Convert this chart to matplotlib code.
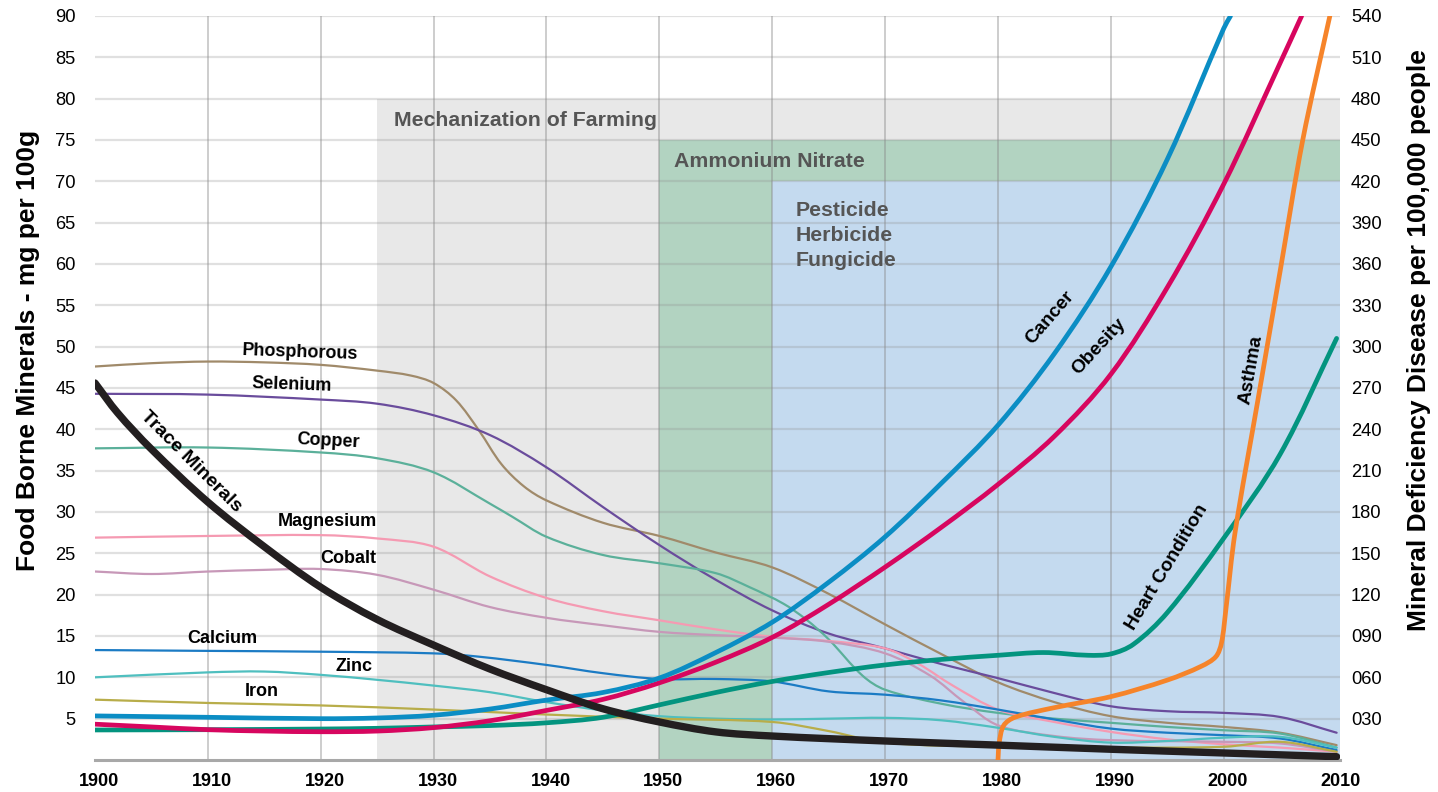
import numpy as np
import matplotlib
matplotlib.use("Agg")
import matplotlib.pyplot as plt
from matplotlib.path import Path
from matplotlib.patches import PathPatch, Rectangle
from matplotlib.transforms import ScaledTranslation

plt.rcParams['font.family'] = ['Liberation Sans', 'DejaVu Sans']

# ---------------- data (left axis: mg per 100g) ----------------
phos_years = [1900, 1905, 1910, 1915, 1920, 1925, 1928, 1930, 1932, 1934, 1936, 1938, 1940, 1945, 1950, 1955, 1960, 1965, 1970, 1975, 1980, 1985, 1990, 1995, 2000, 2005, 2010]
phos_vals  = [47.6, 48.0, 48.2, 48.1, 47.8, 47.1, 46.5, 45.6, 43.5, 39.9, 35.8, 33.1, 31.4, 28.7, 27.1, 25.1, 23.3, 20.1, 16.4, 12.8, 9.4, 7.0, 5.3, 4.5, 4.0, 3.3, 1.8]

sel_years = [1900, 1910, 1920, 1925, 1930, 1935, 1940, 1945, 1950, 1955, 1960, 1965, 1970, 1975, 1980, 1985, 1990, 1995, 2000, 2005, 2010]
sel_vals  = [44.3, 44.2, 43.6, 43.1, 41.7, 39.3, 35.4, 30.6, 26.0, 21.8, 18.1, 15.3, 13.5, 11.6, 9.9, 8.1, 6.5, 5.9, 5.7, 5.2, 3.3]

cop_years = [1900, 1910, 1920, 1925, 1930, 1935, 1937, 1940, 1945, 1950, 1955, 1958, 1961, 1963, 1965, 1968, 1970, 1975, 1980, 1985, 1990, 1995, 2000, 2005, 2010]
cop_vals  = [37.7, 37.8, 37.2, 36.5, 34.8, 31.0, 29.4, 27.0, 24.8, 23.8, 22.6, 20.9, 18.9, 17.0, 14.6, 10.2, 8.5, 6.8, 5.7, 5.0, 4.5, 4.0, 3.6, 3.2, 1.5]

mag_years = [1900, 1910, 1920, 1925, 1930, 1935, 1940, 1945, 1950, 1955, 1960, 1965, 1970, 1973, 1976, 1980, 1985, 1990, 1995, 2000, 2005, 2010]
mag_vals  = [26.9, 27.1, 27.2, 26.8, 25.8, 22.2, 19.6, 18.0, 16.9, 15.8, 14.9, 14.4, 13.5, 11.6, 9.0, 6.1, 4.6, 3.4, 2.5, 1.9, 1.5, 1.0]

cob_years = [1900, 1905, 1910, 1915, 1920, 1925, 1930, 1935, 1940, 1945, 1950, 1955, 1960, 1965, 1970, 1974, 1977, 1980, 1985, 1990, 2000, 2005, 2010]
cob_vals  = [22.8, 22.5, 22.8, 23.0, 23.1, 22.4, 20.6, 18.5, 17.2, 16.3, 15.5, 15.1, 14.8, 14.3, 12.9, 10.2, 7.0, 4.2, 2.9, 2.4, 2.2, 2.0, 1.0]

cal_years = [1900, 1910, 1920, 1930, 1934, 1940, 1945, 1950, 1955, 1960, 1965, 1970, 1975, 1980, 1985, 1990, 1995, 2000, 2005, 2010]
cal_vals  = [13.3, 13.2, 13.1, 12.9, 12.5, 11.5, 10.5, 9.8, 9.8, 9.5, 8.3, 7.9, 7.2, 6.1, 4.9, 3.8, 3.3, 3.0, 2.6, 1.2]

zinc_years = [1900, 1910, 1915, 1920, 1925, 1930, 1935, 1940, 1945, 1950, 1955, 1960, 1965, 1970, 1975, 1980, 1985, 1990, 1995, 2000, 2005, 2010]
zinc_vals  = [10.0, 10.6, 10.7, 10.3, 9.7, 9.0, 8.2, 7.0, 6.0, 5.3, 5.0, 4.9, 5.0, 5.1, 4.8, 3.9, 2.8, 2.1, 2.3, 2.7, 2.8, 1.5]

iron_years = [1900, 1910, 1920, 1930, 1940, 1950, 1960, 1965, 1970, 1980, 1990, 2000, 2005, 2010]
iron_vals  = [7.3, 6.9, 6.6, 6.1, 5.5, 5.0, 4.6, 3.5, 2.1, 1.6, 1.5, 1.6, 2.2, 1.0]

trace_years = [1900, 1902, 1905, 1910, 1915, 1920, 1925, 1930, 1935, 1940, 1945, 1950, 1955, 1960, 1970, 1980, 1990, 2000, 2010]
trace_vals  = [45.6, 42.0, 37.6, 31.2, 25.8, 20.9, 17.0, 13.9, 11.0, 8.5, 6.2, 4.6, 3.4, 2.9, 2.3, 1.8, 1.3, 0.85, 0.4]

# ---------------- data (right axis: disease per 100,000) ----------------
cancer_years = [1900, 1910, 1920, 1925, 1930, 1935, 1940, 1945, 1950, 1955, 1960, 1965, 1970, 1975, 1980, 1985, 1990, 1995, 2000, 2000.6]
cancer_vals  = [32, 31, 30, 30.5, 32.5, 37, 43.5, 49, 59.5, 78, 100, 129, 162, 201, 243, 295, 358, 436, 531, 540]

obesity_years = [1900, 1905, 1910, 1915, 1920, 1925, 1930, 1935, 1940, 1945, 1950, 1955, 1960, 1965, 1970, 1975, 1980, 1985, 1990, 1995, 2000, 2005, 2006.9]
obesity_vals  = [26, 24, 22, 21, 20.5, 21, 23.5, 28.5, 36, 44, 56, 71, 89, 113, 140, 169, 200, 235, 280, 343, 418, 506, 540]

heart_years = [1900, 1910, 1920, 1925, 1930, 1935, 1940, 1945, 1950, 1955, 1960, 1965, 1970, 1975, 1980, 1984, 1988, 1990, 1992, 1995, 2000, 2005, 2010]
heart_vals  = [21.8, 22, 22.5, 23, 24, 25, 27, 31, 40, 49, 57, 63.5, 69, 73, 76, 78, 76, 77, 84, 107, 161, 222, 306]

asthma_years = [1980, 1980.1, 1980.5, 1981.5, 1985, 1990, 1995, 1998, 1999.3, 1999.8, 2000.2, 2001, 2003, 2005, 2007, 2009.4]
asthma_vals  = [0, 12, 25, 31, 38, 46, 58, 68, 75, 85, 110, 165, 260, 355, 450, 540]

left_ticks = list(range(5, 95, 5))
right_ticks = list(range(30, 570, 30))
x_ticks = list(range(1900, 2020, 10))

# ---------------- figure ----------------
W, H = 1438, 792
fig = plt.figure(figsize=(W / 100, H / 100), dpi=100)
ax_l, ax_r, ax_b, ax_t = 95, 1340, 760, 16
ax = fig.add_axes([ax_l / W, 1 - ax_b / H, (ax_r - ax_l) / W, (ax_b - ax_t) / H])
XMIN, XMAX = 1900.35, 2010.3
ax.set_xlim(XMIN, XMAX)
ax.set_ylim(0, 90)
ax2 = ax.twinx()
ax2.set_ylim(0, 540)

for a in (ax, ax2):
    for s in a.spines.values():
        s.set_visible(False)
ax.set_zorder(2)
ax2.set_zorder(3)
ax.patch.set_visible(True)
ax2.patch.set_visible(False)

# shaded eras
ax.add_patch(Rectangle((1925, 0), XMAX - 1925, 80, facecolor='#e8e8e8', edgecolor='none', zorder=0.2))
ax.add_patch(Rectangle((1950, 0), XMAX - 1950, 75, facecolor='#b2d3c1', edgecolor='none', zorder=0.3))
ax.add_patch(Rectangle((1960, 0), XMAX - 1960, 70, facecolor='#c4daef', edgecolor='none', zorder=0.4))

# grid
for v in left_ticks:
    ax.axhline(v, color='#909090', alpha=0.28, lw=1.6, zorder=0.6)
for x in x_ticks[1:-1]:
    ax.axvline(x, color='#888888', alpha=0.45, lw=1.3, zorder=0.6)
ax.axhline(0, color='#a8a8a8', lw=2.2, zorder=0.7, clip_on=False)

# ticks
ax.set_xticks(x_ticks)
ax.set_xticklabels([str(x) for x in x_ticks], fontsize=13, fontweight='bold')
ax.tick_params(axis='x', length=0, pad=9)
offs = ScaledTranslation(4 / 100, 0, fig.dpi_scale_trans)
for lab in ax.get_xticklabels():
    lab.set_transform(lab.get_transform() + offs)
ax.set_yticks(left_ticks)
ax.set_yticklabels([str(v) for v in left_ticks], fontsize=13.2)
ax.tick_params(axis='y', length=0, pad=14)
ax2.set_yticks(right_ticks)
ax2.set_yticklabels(['%03d' % v for v in right_ticks], fontsize=13.2)
ax2.tick_params(axis='y', length=0, pad=8)

fig.text(28 / W, 1 - 350 / H, 'Food Borne Minerals - mg per 100g', rotation=90,
         ha='center', va='center', fontsize=19, fontweight='bold')
fig.text(1419 / W, 1 - 340 / H, 'Mineral Deficiency Disease per 100,000 people', rotation=90,
         ha='center', va='center', fontsize=19, fontweight='bold')


def smooth_line(a, xs, ys, ymax, color, lw, z):
    xs = np.asarray(xs, float)
    ys = np.asarray(ys, float)
    sx = (ax_r - ax_l) / (XMAX - XMIN)
    sy = (ax_b - ax_t) / ymax
    P = np.column_stack([xs * sx, ys * sy])
    n = len(P)
    d = np.linalg.norm(np.diff(P, axis=0), axis=1)
    d[d == 0] = 1e-9
    m = np.zeros_like(P)
    m[0] = (P[1] - P[0]) / d[0]
    m[-1] = (P[-1] - P[-2]) / d[-1]
    for i in range(1, n - 1):
        m[i] = (P[i + 1] - P[i - 1]) / (d[i - 1] + d[i])
    verts = [P[0]]
    codes = [Path.MOVETO]
    for i in range(n - 1):
        c1 = P[i] + m[i] * d[i] / 3
        c2 = P[i + 1] - m[i + 1] * d[i] / 3
        verts += [c1, c2, P[i + 1]]
        codes += [Path.CURVE4] * 3
    V = np.array(verts)
    V[:, 0] /= sx
    V[:, 1] /= sy
    patch = PathPatch(Path(V, codes), facecolor='none', edgecolor=color, lw=lw,
                      capstyle='round', joinstyle='round', zorder=z)
    a.add_patch(patch)


mlw = 1.6
smooth_line(ax, phos_years, phos_vals, 90, '#a08a6a', mlw, 3)
smooth_line(ax, sel_years, sel_vals, 90, '#6a4c9c', mlw, 3)
smooth_line(ax, cop_years, cop_vals, 90, '#5bb09a', mlw, 3)
smooth_line(ax, mag_years, mag_vals, 90, '#f59ab2', mlw, 3)
smooth_line(ax, cob_years, cob_vals, 90, '#c798b8', mlw, 3)
smooth_line(ax, cal_years, cal_vals, 90, '#1b7bc4', mlw, 3)
smooth_line(ax, zinc_years, zinc_vals, 90, '#4fbfbf', mlw, 3)
smooth_line(ax, iron_years, iron_vals, 90, '#b8ad4a', mlw, 3)

dlw = 3.4
smooth_line(ax2, heart_years, heart_vals, 540, '#03947f', dlw, 4)
smooth_line(ax2, obesity_years, obesity_vals, 540, '#d7065f', dlw, 4)
smooth_line(ax2, cancer_years, cancer_vals, 540, '#0b8dc4', dlw, 4)
smooth_line(ax2, asthma_years, asthma_vals, 540, '#f6842a', dlw, 4)

smooth_line(ax2, trace_years, [v * 6 for v in trace_vals], 540, '#231f20', 5.3, 5)


def px(x, y):
    return 1900 + (x - 91) / 11.33, (760 - y) / 8.27


labels = [
    ('Phosphorous', 297, 352, -2, 13), ('Selenium', 288, 385, -2, 13), ('Copper', 325, 441, -3, 13),
    ('Magnesium', 324, 521, 0, 13), ('Cobalt', 345, 558, 0, 13), ('Calcium', 219, 638, 0, 13),
    ('Zinc', 351, 666, 0, 13), ('Iron', 258, 691, 0, 13), ('Trace Minerals', 187, 462, -45, 14),
    ('Cancer', 1050, 318, 49, 13.8), ('Obesity', 1099, 346, 47, 13.8), ('Asthma', 1252, 370, 80, 13.8),
    ('Heart Condition', 1167, 567, 59, 13.8),
]
for t, x, y, r, fs in labels:
    xd, yd = px(x, y)
    ax2.text(xd, yd * 6, t, fontsize=fs, fontweight='bold', color='black', rotation=r,
             rotation_mode='anchor', ha='center', va='center', zorder=6)

for t, x, y in [('Mechanization of Farming', 391, 120), ('Ammonium Nitrate', 672, 161),
                ('Pesticide', 794, 210), ('Herbicide', 794, 235), ('Fungicide', 794, 260)]:
    xd, yd = px(x, y)
    ax.text(xd, yd, t, fontsize=15.3, fontweight='bold', color='#555555', ha='left', va='center', zorder=1)

fig.savefig('out.png', dpi=100)
